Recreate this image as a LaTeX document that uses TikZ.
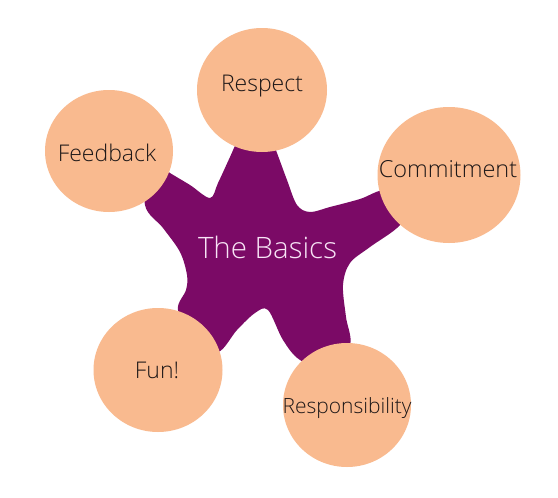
\documentclass[tikz,border=0pt]{standalone}
\usepackage{fontspec}
\IfFontExistsTF{Open Sans Light}{\setmainfont{Open Sans Light}}{\setmainfont{Open Sans}}
\usetikzlibrary{shapes.geometric}
\definecolor{peach}{RGB}{249,186,143}
\definecolor{plum}{RGB}{123,10,102}
\definecolor{inktext}{RGB}{30,24,24}
\definecolor{paletext}{RGB}{248,228,246}
\tikzset{
  blob/.style={ellipse, fill=peach, inner sep=0pt},
  lbl/.style={text=inktext, font=\fontsize{23}{27}\selectfont, inner sep=0pt, anchor=base},
}
\begin{document}
\begin{tikzpicture}[x=1pt,y=-1pt]
\useasboundingbox (0,0) rectangle (558,498);
\fill[white] (0,0) rectangle (558,498);
% star
\fill[plum] plot[smooth cycle, tension=0.55] coordinates {
 (150,160) (170,173) (190,185) (210,198) (218,183) (230,157) (238,140) (250,125)
 (268,130) (277,153) (287,180) (297,205) (310,212) (330,207) (360,199) (385,190)
 (410,200) (400,225) (370,247) (350,263) (343,285) (346,317) (350,345) (330,370)
 (300,360) (283,340) (268,310) (255,313) (237,330) (218,352) (195,340) (178,310)
 (186,290) (187,275) (180,252) (163,228) (145,205)};
\node[text=paletext, font=\fontsize{29.5}{34}\selectfont, inner sep=0pt, anchor=base] (core) at (267.5,258) {The Basics};
% circles
\node[blob, minimum width=130pt, minimum height=124pt] (respect) at (262,90) {};
\node[blob, minimum width=128pt, minimum height=122pt] (feedback) at (109,151) {};
\node[blob, minimum width=143pt, minimum height=136pt] (commit) at (449,175) {};
\node[blob, minimum width=129pt, minimum height=124pt] (fun) at (158,370) {};
\node[blob, minimum width=128pt, minimum height=124pt] (resp) at (347,405) {};
% labels
\node[lbl] (lrespect) at (262,91) {Respect};
\node[lbl] (lfeedback) at (107,161) {Feedback};
\node[lbl, font=\fontsize{23.5}{27}\selectfont] (lcommit) at (448,177) {Commitment};
\node[lbl] (lfun) at (157,378) {Fun!};
\node[lbl, font=\fontsize{21}{25}\selectfont] (lresp) at (347,413) {Responsibility};
\end{tikzpicture}
\end{document}
